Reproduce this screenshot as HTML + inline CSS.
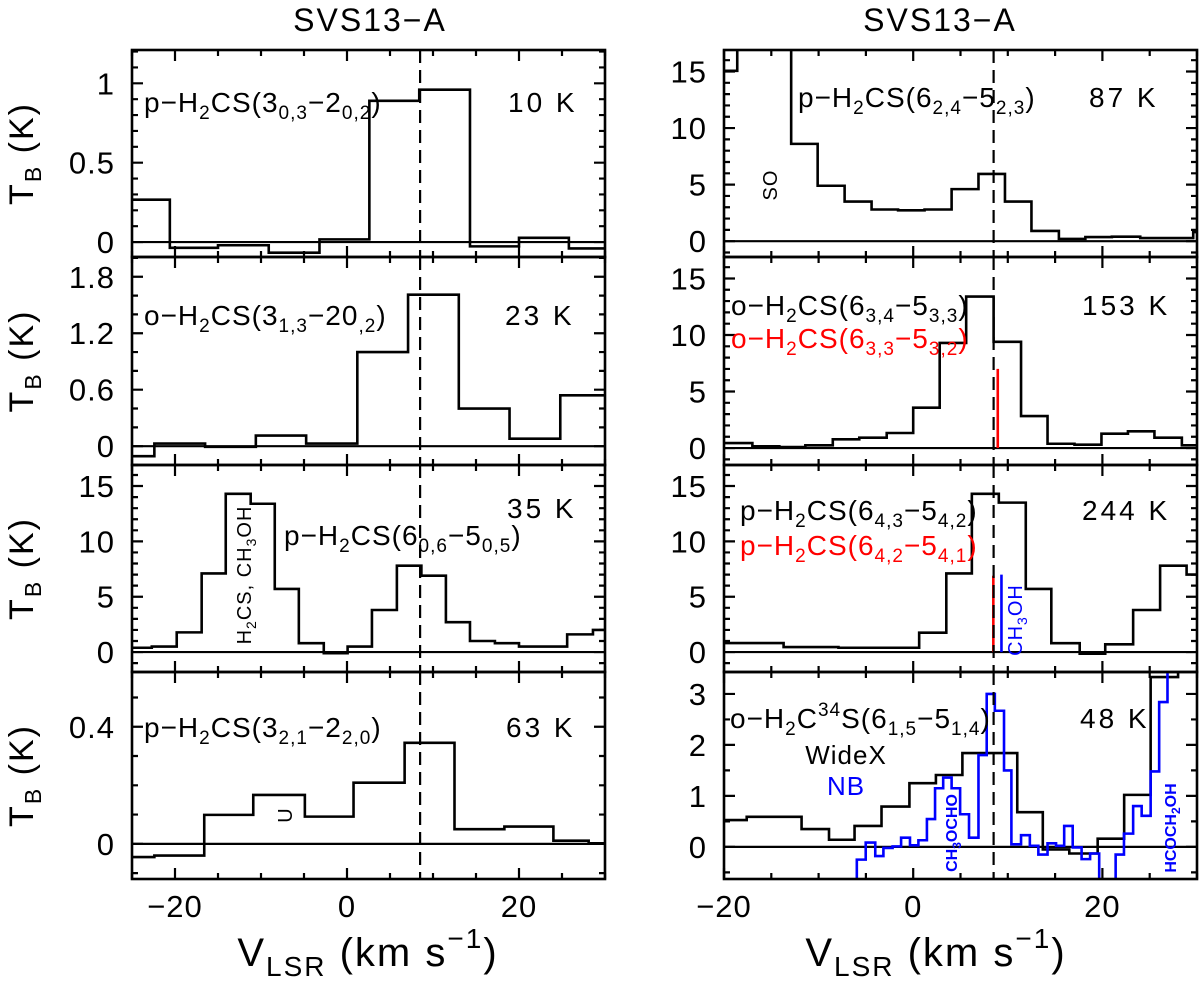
<!DOCTYPE html>
<html><head><meta charset="utf-8"><style>
html,body{margin:0;padding:0;background:#fff;}
svg{display:block;font-family:"Liberation Sans","DejaVu Sans",sans-serif;}
</style></head><body>
<svg id="fig" width="1200" height="981" viewBox="0 0 1200 981">
  <rect x="0" y="0" width="1200" height="981" fill="#fff"/>
  <g id="plots"></g>
  <g id="labels" font-size="28" fill="#000" letter-spacing="1">
    <text x="370" y="31" font-size="32" text-anchor="middle" letter-spacing="2">SVS13−A</text>
    <text x="940" y="31" font-size="32" text-anchor="middle" letter-spacing="2">SVS13−A</text>

    <text x="144" y="112">p−H<tspan font-size="19" dy="7">2</tspan><tspan dy="-7">CS(3</tspan><tspan font-size="19" dy="7">0,3</tspan><tspan dy="-7">−2</tspan><tspan font-size="19" dy="7">0,2</tspan><tspan dy="-7">)</tspan></text>
    <text x="508" y="112" letter-spacing="3">10 K</text>

    <text x="144" y="325">o−H<tspan font-size="19" dy="7">2</tspan><tspan dy="-7">CS(3</tspan><tspan font-size="19" dy="7">1,3</tspan><tspan dy="-7">−20</tspan><tspan font-size="19" dy="7">,2</tspan><tspan dy="-7">)</tspan></text>
    <text x="505" y="325" letter-spacing="3">23 K</text>

    <text x="284" y="545">p−H<tspan font-size="19" dy="7">2</tspan><tspan dy="-7">CS(6</tspan><tspan font-size="19" dy="7">0,6</tspan><tspan dy="-7">−5</tspan><tspan font-size="19" dy="7">0,5</tspan><tspan dy="-7">)</tspan></text>
    <text x="507" y="518" letter-spacing="3">35 K</text>
    <text transform="translate(251,575) rotate(-90)" font-size="20" text-anchor="middle">H<tspan font-size="14" dy="5">2</tspan><tspan dy="-5">CS,  CH</tspan><tspan font-size="14" dy="5">3</tspan><tspan dy="-5">OH</tspan></text>

    <text x="144" y="737">p−H<tspan font-size="19" dy="7">2</tspan><tspan dy="-7">CS(3</tspan><tspan font-size="19" dy="7">2,1</tspan><tspan dy="-7">−2</tspan><tspan font-size="19" dy="7">2,0</tspan><tspan dy="-7">)</tspan></text>
    <text x="506" y="737" letter-spacing="3">63 K</text>
    <text transform="translate(292,815) rotate(-90)" font-size="20" text-anchor="middle">U</text>

    <text x="798" y="107">p−H<tspan font-size="19" dy="7">2</tspan><tspan dy="-7">CS(6</tspan><tspan font-size="19" dy="7">2,4</tspan><tspan dy="-7">−5</tspan><tspan font-size="19" dy="7">2,3</tspan><tspan dy="-7">)</tspan></text>
    <text x="1089" y="107" letter-spacing="3">87 K</text>
    <text transform="translate(777,185) rotate(-90)" font-size="20" text-anchor="middle">SO</text>

    <text x="731" y="315">o−H<tspan font-size="19" dy="7">2</tspan><tspan dy="-7">CS(6</tspan><tspan font-size="19" dy="7">3,4</tspan><tspan dy="-7">−5</tspan><tspan font-size="19" dy="7">3,3</tspan><tspan dy="-7">)</tspan></text>
    <text x="731" y="348" fill="#ff0000">o−H<tspan font-size="19" dy="7">2</tspan><tspan dy="-7">CS(6</tspan><tspan font-size="19" dy="7">3,3</tspan><tspan dy="-7">−5</tspan><tspan font-size="19" dy="7">3,2</tspan><tspan dy="-7">)</tspan></text>
    <text x="1082" y="315" letter-spacing="3">153 K</text>

    <text x="740" y="520">p−H<tspan font-size="19" dy="7">2</tspan><tspan dy="-7">CS(6</tspan><tspan font-size="19" dy="7">4,3</tspan><tspan dy="-7">−5</tspan><tspan font-size="19" dy="7">4,2</tspan><tspan dy="-7">)</tspan></text>
    <text x="740" y="555" fill="#ff0000">p−H<tspan font-size="19" dy="7">2</tspan><tspan dy="-7">CS(6</tspan><tspan font-size="19" dy="7">4,2</tspan><tspan dy="-7">−5</tspan><tspan font-size="19" dy="7">4,1</tspan><tspan dy="-7">)</tspan></text>
    <text x="1082" y="520" letter-spacing="3">244 K</text>
    <text transform="translate(1022,620) rotate(-90)" font-size="20" fill="#0000ff" text-anchor="middle">CH<tspan font-size="14" dy="5">3</tspan><tspan dy="-5">OH</tspan></text>

    <text x="730" y="728">o−H<tspan font-size="19" dy="7">2</tspan><tspan dy="-7">C</tspan><tspan font-size="19" dy="-12">34</tspan><tspan dy="12">S(6</tspan><tspan font-size="19" dy="7">1,5</tspan><tspan dy="-7">−5</tspan><tspan font-size="19" dy="7">1,4</tspan><tspan dy="-7">)</tspan></text>
    <text x="1080" y="728" letter-spacing="3">48 K</text>
    <text x="846" y="764" text-anchor="middle" font-size="26">WideX</text>
    <text x="846" y="795" text-anchor="middle" font-size="26" fill="#0000ff">NB</text>
    <text transform="translate(957,833) rotate(-90)" font-size="16" font-weight="bold" fill="#0000ff" text-anchor="middle" letter-spacing="0">CH<tspan font-size="12" dy="4">3</tspan><tspan dy="-4">OCHO</tspan></text>
    <text transform="translate(1176,828) rotate(-90)" font-size="16" font-weight="bold" fill="#0000ff" text-anchor="middle" letter-spacing="0">HCOCH<tspan font-size="12" dy="4">2</tspan><tspan dy="-4">OH</tspan></text>

    <text x="368" y="966" text-anchor="middle" font-size="40" letter-spacing="2">V<tspan font-size="28" dy="10">LSR</tspan><tspan dy="-10">  (km  s</tspan><tspan font-size="28" dy="-18">−1</tspan><tspan dy="18">)</tspan></text>
    <text x="936" y="966" text-anchor="middle" font-size="40" letter-spacing="2">V<tspan font-size="28" dy="10">LSR</tspan><tspan dy="-10">  (km  s</tspan><tspan font-size="28" dy="-18">−1</tspan><tspan dy="18">)</tspan></text>
  </g>
</svg>
<script>
// ---- data (velocity bin edges in km/s, brightness temperature in K) ----
const l1Edges = [-25,-20.6,-15.0,-9.1,-3.2,2.6,8.4,14.3,20.0,25.8,30];
const l1Vals  = [0.267,-0.036,-0.02,-0.067,0.017,0.89,0.96,-0.027,0.027,-0.04];
const l2Edges = [-25,-22.4,-16.5,-10.6,-4.75,1.2,7.1,13.0,18.9,24.8,30];
const l2Vals  = [-0.106,0.028,-0.007,0.113,0.028,1.0,1.61,0.40,0.08,0.54];
const l3Edges = [-25,-22.7,-19.8,-16.9,-14.1,-11.2,-8.4,-5.6,-2.7,0.07,2.9,5.8,8.65,11.5,14.3,17.2,20.0,25.6,28.6,30];
const l3Vals  = [0.39,0.5,1.78,7.1,14.3,13.4,5.7,0.8,-0.1,0.5,3.8,7.8,6.9,2.7,1.0,0.8,0.5,1.6,2.0];
const l4Edges = [-25,-22.4,-16.6,-10.9,-4.9,0.76,6.7,12.5,18.3,24.0,28.1,30];
const l4Vals  = [-0.045,-0.04,0.099,0.167,0.093,0.209,0.345,0.05,0.059,0.011,0.002];
const r1Edges = [-20,-18.6,-12.9,-10.1,-7.25,-4.4,-1.6,1.2,4.06,6.9,9.7,12.5,15.4,18.2,21.0,24.0,29.6,30];
const r1Vals  = [15.06,20,8.6,4.9,3.5,2.8,2.73,2.8,4.6,5.94,3.5,0.9,0.2,0.36,0.4,0.27,0.8];
const r2Edges = [-20,-17,-14.15,-11.4,-8.5,-5.7,-2.8,0,2.8,5.6,8.5,11.4,14.2,17.05,19.9,22.7,25.5,28.4,30];
const r2Vals  = [0.44,0.15,0.09,0.24,0.77,0.92,1.33,3.57,9.3,13.4,9.4,2.83,0.38,0.3,1.27,1.48,0.92,0.24];
const r3Edges = [-20,-13.7,-7.9,0.63,3.5,6.2,9.05,11.9,14.6,17.6,20.3,23.25,26.1,28.9,30];
const r3Vals  = [0.81,0.45,0.39,1.75,7.1,14.3,13.5,5.7,0.8,-0.15,0.7,3.8,7.8,7.0];
const r4Edges = [-20,-17.6,-11.8,-8.9,-6.2,-3.35,-0.4,2.4,5.2,11.0,13.7,16.5,19.5,22.3,25.1,28.0,30];
const r4Vals  = [0.525,0.59,0.35,0.14,0.41,0.79,1.25,1.41,1.84,0.68,-0.05,-0.13,0.16,1.02,3.33,3.6];
const nbEdges = [-5.96,-5.02,-4.01,-3.15,-2.18,-1.28,-0.34,0.55,1.45,2.31,3.17,4.06,4.96,5.9,6.9,7.77,8.63,9.6,10.38,11.4,12.33,13.23,14.2,15.1,15.96,16.86,17.8,18.7,19.66,21.4,22.28,23.25,24.15,25.1,26.0,26.88,27.5];
const nbVals  = [-0.25,0.085,-0.18,-0.02,0.01,0.18,0.03,0.13,0.545,1.15,1.36,1.15,0.64,0.18,1.8,3.0,2.67,1.5,0.05,0.23,0.02,-0.15,0.07,0.02,0.41,-0.01,-0.24,-0.13,-0.8,-0.15,0.26,0.8,0.61,1.48,2.84,4.5];
const systemicVelocity = 8.5;
const redLine2 = [8.94, 7.0];
const redLine3 = [8.47, 6.9];
const blueLine3 = [9.33, 7.0];
const yLabels1 = ["0","0.5","1"], yLabels2 = ["0","0.6","1.2","1.8"], yLabels15 = ["0","5","10","15"];
const yLabels4 = ["0","0.4"], yLabelsR4 = ["0","1","2","3"];
const xLabels = ["−20","0","20"];

// ---- layout ----
const NS = "http://www.w3.org/2000/svg";
const rows = [50,257,465,672,879];
const cols = {L:[132,605,-25,30], R:[724,1197,-20,30]};
const panels = [
  {id:"left-1",c:"L",r:0,ymin:-0.094,ymax:1.21,maj:0.5,min:0.1,lab:yLabels1,e:l1Edges,v:l1Vals},
  {id:"left-2",c:"L",r:1,ymin:-0.2,ymax:2.01,maj:0.6,min:0.2,lab:yLabels2,e:l2Edges,v:l2Vals},
  {id:"left-3",c:"L",r:2,ymin:-1.8,ymax:16.9,maj:5,min:1,lab:yLabels15,e:l3Edges,v:l3Vals},
  {id:"left-4",c:"L",r:3,ymin:-0.12,ymax:0.587,maj:0.4,min:0.1,lab:yLabels4,e:l4Edges,v:l4Vals,xl:true},
  {id:"right-1",c:"R",r:0,ymin:-1.4,ymax:16.9,maj:5,min:1,lab:yLabels15,e:r1Edges,v:r1Vals},
  {id:"right-2",c:"R",r:1,ymin:-1.5,ymax:16.9,maj:5,min:1,lab:yLabels15,e:r2Edges,v:r2Vals,red:redLine2},
  {id:"right-3",c:"R",r:2,ymin:-1.8,ymax:16.9,maj:5,min:1,lab:yLabels15,e:r3Edges,v:r3Vals,red:redLine3,blue:blueLine3},
  {id:"right-4",c:"R",r:3,ymin:-0.63,ymax:3.43,maj:1,min:0.5,lab:yLabelsR4,e:r4Edges,v:r4Vals,nb:true,xl:true}
];
const root = document.getElementById("plots");
function mk(tag, attrs, parent){const el=document.createElementNS(NS,tag);for(const k in attrs)el.setAttribute(k,attrs[k]);parent.appendChild(el);return el;}
function stepPath(edges, vals, sx, sy, startY){
  let d = "M"+sx(edges[0])+","+sy(startY!==undefined?startY:vals[0]);
  for(let i=0;i<vals.length;i++){d+=" L"+sx(edges[i])+","+sy(vals[i])+" L"+sx(edges[i+1])+","+sy(vals[i]);}
  return d;
}
panels.forEach(p=>{
  const [x0,x1,vmin,vmax]=cols[p.c]; const y0=rows[p.r], y1=rows[p.r+1];
  const sx=v=>x0+(v-vmin)/(vmax-vmin)*(x1-x0);
  const sy=t=>y1-(t-p.ymin)/(p.ymax-p.ymin)*(y1-y0);
  const g=mk("g",{},root);
  
  
  const cp=mk("clipPath",{id:"clip-"+p.id},g); mk("rect",{x:x0,y:y0,width:x1-x0,height:y1-y0},cp);
  const marks=mk("g",{"clip-path":"url(#clip-"+p.id+")"},g);
  const z=mk("line",{x1:x0,x2:x1,y1:sy(0),y2:sy(0),stroke:"#000","stroke-width":2.2},marks);
  
  
  const h=mk("path",{d:stepPath(p.e,p.v,sx,sy),fill:"none",stroke:"#000","stroke-width":2.6,"stroke-linejoin":"miter"},marks);
  
  
  if(p.nb){
    const b=mk("path",{d:stepPath(nbEdges,nbVals,sx,sy,-0.8),fill:"none",stroke:"#0000ff","stroke-width":2.6},marks);
    
    
  }
  if(p.red){
    const r=mk("line",{x1:sx(p.red[0]),x2:sx(p.red[0]),y1:sy(0),y2:sy(p.red[1]),stroke:"#ff0000","stroke-width":2.6},marks);
    
    
  }
  if(p.blue){
    const bl=mk("line",{x1:sx(p.blue[0]),x2:sx(p.blue[0]),y1:sy(0),y2:sy(p.blue[1]),stroke:"#0000ff","stroke-width":2.6},marks);
    
    
  }
  const ds=mk("line",{x1:sx(systemicVelocity),x2:sx(systemicVelocity),y1:y0,y2:y1,stroke:"#000","stroke-width":2.2,"stroke-dasharray":"13,7"},marks);
  
  
  let td="";
  for(let v=Math.ceil(vmin/5)*5; v<=vmax; v+=5){
    const L=(Math.round(v)%20===0)?11:6; const X=sx(v);
    td+="M"+X+","+y1+" v"+(-L)+" M"+X+","+y0+" v"+L+" ";
  }
  const nMin=Math.round(p.maj/p.min);
  for(let k=Math.ceil(p.ymin/p.min); k*p.min<=p.ymax+1e-9; k++){
    const t=k*p.min; const Y=sy(t); const L=(k%nMin===0)?11:6;
    td+="M"+x0+","+Y+" h"+L+" M"+x1+","+Y+" h"+(-L)+" ";
  }
  const tk=mk("path",{d:td,stroke:"#000","stroke-width":2.2,fill:"none"},g);
  
  
  const fr=mk("rect",{x:x0,y:y0,width:x1-x0,height:y1-y0,fill:"none",stroke:"#000","stroke-width":2.6},g);
  
  
  p.lab.forEach((s,i)=>{
    const t=mk("text",{x:x0-17,y:sy(i*p.maj)+11,"text-anchor":"end","font-size":31,"letter-spacing":1},g);
    t.textContent=s;
    
    
  });
  if(p.c==="L"){
    const yc=(y0+y1)/2;
    const t=mk("text",{transform:"translate(33,"+yc+") rotate(-90)","text-anchor":"middle","font-size":34,"letter-spacing":2},g);
    t.innerHTML='T<tspan font-size="23" dy="8">B</tspan><tspan dy="-8">  (K)</tspan>';
    
    
  }
  if(p.xl){
    [-20,0,20].forEach((v,i)=>{
      const t=mk("text",{x:sx(v),y:917,"text-anchor":"middle","font-size":31,"letter-spacing":1},g);
      t.textContent=xLabels[i];
      
      
    });
  }
});
</script>
</body></html>
